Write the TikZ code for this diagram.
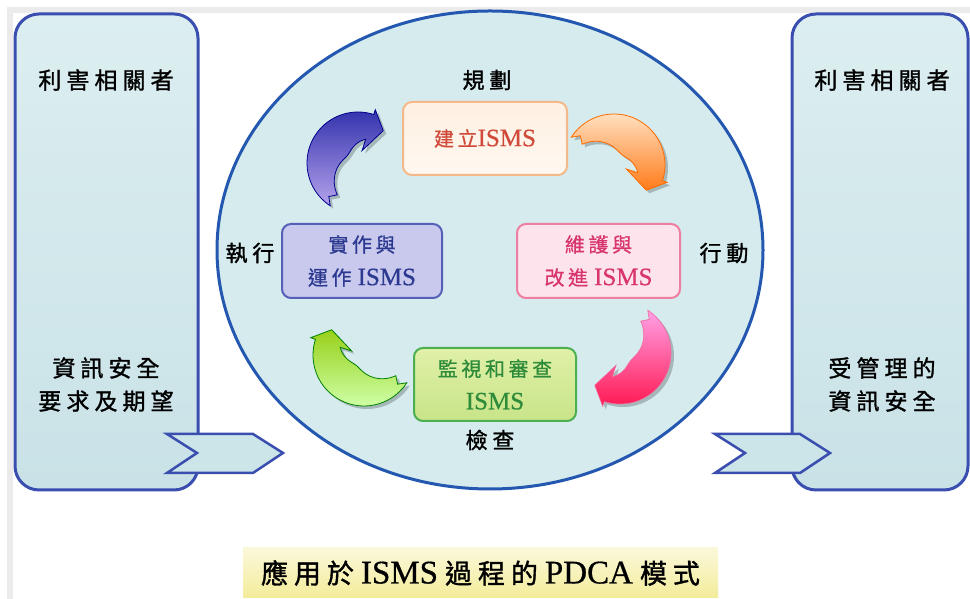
\documentclass[tikz,border=0pt]{standalone}
\usepackage{fontspec}
\usetikzlibrary{shapes.geometric}
\setmainfont{Liberation Serif}
\newfontfamily\cjk[LetterSpace=22, FakeBold=1.3]{Noto Sans CJK TC}
\newfontfamily\cjkbox[LetterSpace=18, FakeBold=0.8]{Noto Sans CJK TC}
\newfontfamily\latinbox[FakeBold=0.6]{Liberation Serif}

\definecolor{frame}{HTML}{EBEBEB}
\definecolor{edgeblue}{HTML}{3A4EB0}
\definecolor{ringblue}{HTML}{2458B0}
\definecolor{paleA}{HTML}{DCEEF0}
\definecolor{paleB}{HTML}{C9E2E7}
\definecolor{disc}{HTML}{D5EBEE}
\definecolor{chev}{HTML}{CBE5E9}
\definecolor{planedge}{HTML}{F5B888}
\definecolor{planfill}{HTML}{FEF0E2}
\definecolor{plantext}{HTML}{D04A3A}
\definecolor{doedge}{HTML}{5560B8}
\definecolor{dofill}{HTML}{C9C9EE}
\definecolor{dotext}{HTML}{2B3990}
\definecolor{actedge}{HTML}{EE7FA0}
\definecolor{actfill}{HTML}{FCE3EC}
\definecolor{acttext}{HTML}{D8356E}
\definecolor{chkedge}{HTML}{4CB050}
\definecolor{chkfillA}{HTML}{E0F0A8}
\definecolor{chkfillB}{HTML}{C8E488}
\definecolor{chktext}{HTML}{2E8B3A}
\definecolor{capA}{HTML}{FBF8DA}
\definecolor{capB}{HTML}{F3EC9A}

% outline of one curved cycle arrow, tail at 237 deg, head near 72 deg (clockwise)
\newcommand\arrowpath{%
  plot[domain=0:1, samples=40, smooth]
    ({51*cos(237-165*\x)}, {51*sin(237-165*\x)})
  -- ({56*cos(72)}, {56*sin(72)})
  -- ({41*cos(52)}, {41*sin(52)})
  -- ({13*cos(72)}, {13*sin(72)})
  -- plot[domain=1:0, samples=40, smooth]
    ({(51-(13*(1-\x)+26*\x+18*sin(180*\x)))*cos(237-165*\x)},
     {(51-(13*(1-\x)+26*\x+18*sin(180*\x)))*sin(237-165*\x)})
  -- ({44.5*cos(229)}, {44.5*sin(229)}) -- cycle}

% #1,#2 centre, #3 rotation, #4 look
\newcommand\pdcaarrow[4]{%
  \begin{scope}[shift={(#1+3,#2-3)}, rotate=#3]
    \fill[black, opacity=.22] \arrowpath;
  \end{scope}
  \begin{scope}[shift={(#1,#2)}, rotate=#3]
    \path[#4] \arrowpath;
  \end{scope}}

% CJK part of a step label, Latin part of a step label
\newcommand\zh[1]{{\cjkbox\fontsize{20}{33}\selectfont #1}}
\newcommand\en[1]{{\latinbox\fontsize{25}{33}\selectfont #1}}
% caption pieces
\newcommand\capzh[1]{{\cjk\fontsize{27}{32}\selectfont #1}}
\newcommand\capen[1]{{\latinbox\fontsize{33}{32}\selectfont #1}}

\tikzset{
  sidebox/.style={draw=edgeblue, line width=3pt, rounded corners=24pt,
    top color=paleA, bottom color=paleB},
  phase/.style={font=\cjk\fontsize{22}{26}\selectfont, text=black},
  stake/.style={font=\cjk\fontsize{23}{33}\selectfont, text=black, align=center},
  stepbox/.style={rounded corners=9pt, line width=2pt, align=center,
    font=\fontsize{20}{33}\selectfont},
  chevron/.style={draw=edgeblue, line width=2.5pt, fill=chev, line join=miter},
}

\begin{document}
\begin{tikzpicture}[x=1pt, y=1pt]
\useasboundingbox (0,0) rectangle (970,599);
\fill[white] (0,0) rectangle (970,599);

% screenshot frame
\fill[frame] (7,586) rectangle (970,592);
\fill[frame] (7,0) rectangle (13,592);

% stakeholder panels
\node[sidebox, minimum width=183pt, minimum height=476pt, inner sep=0pt] (lbox) at (106.5,347) {};
\node[sidebox, minimum width=176pt, minimum height=476pt, inner sep=0pt] (rbox) at (880,347) {};

\node[stake] (ltitle) at (106,519) {利害相關者};
\node[stake] (lneed) at (106,214.5) {資訊安全\\要求及期望};
\node[stake] (rtitle) at (882,519) {利害相關者};
\node[stake] (rsec) at (882,214.5) {受管理的\\資訊安全};

% the cycle disc
\node[ellipse, draw=ringblue, line width=3pt, fill=disc,
  minimum width=546pt, minimum height=478pt, inner sep=0pt] (cyc) at (490,349) {};

% phase names
\node[phase] (plbl) at (487,519) {規劃};
\node[phase] (dlbl) at (250,346) {執行};
\node[phase] (albl) at (724,346) {行動};
\node[phase] (clbl) at (490,159) {檢查};

% process steps
\node[stepbox, draw=planedge, top color=planfill, bottom color=planfill!80!orange!20,
  text=plantext, minimum width=164pt, minimum height=73pt] (plan) at (485,460.5)
  {\zh{建立}\en{ISMS}};
\node[stepbox, draw=doedge, fill=dofill, text=dotext,
  minimum width=160pt, minimum height=74pt] (do) at (362,338)
  {\zh{實作與}\\\zh{運作}\hspace{6pt}\en{ISMS}};
\node[stepbox, draw=actedge, fill=actfill, text=acttext,
  minimum width=163pt, minimum height=74pt] (act) at (598.5,338)
  {\zh{維護與}\\\zh{改進}\hspace{6pt}\en{ISMS}};
\node[stepbox, draw=chkedge, top color=chkfillA, bottom color=chkfillB, text=chktext,
  minimum width=162pt, minimum height=73pt] (check) at (495,214.5)
  {\zh{監視和審查}\\\en{ISMS}};

% curved arrows between the steps
\pdcaarrow{358}{436}{0}{draw=blue!55!black, line width=.8pt,
  top color=blue!60!black!80, bottom color=blue!25!white!85!violet}
\pdcaarrow{614}{434}{-90}{draw=orange!85!red, line width=.8pt,
  top color=orange!25!white, bottom color=orange!85!red!90}
\pdcaarrow{620}{246}{-180}{draw=magenta!70!red!60, line width=.6pt,
  top color=magenta!30!white!90!red, bottom color=red!75!magenta!90}
\pdcaarrow{364}{244}{90}{draw=green!50!black, line width=.8pt,
  top color=green!55!black!45!yellow!90, bottom color=yellow!45!green!35!white}

% flow in and out
\draw[chevron] (167,165) -- (253,165) -- (283,146) -- (253,126) -- (167,126) -- (197,146) -- cycle;
\draw[chevron] (715,165) -- (800,165) -- (830,146) -- (800,126) -- (715,126) -- (745,146) -- cycle;

% caption
\node[top color=capA, bottom color=capB, minimum width=475pt, minimum height=50pt,
  inner sep=0pt] (cap) at (480.5,26)
  {\capzh{應用於}\hspace{7pt}\capen{ISMS}\hspace{7pt}\capzh{過程的}\hspace{7pt}\capen{PDCA}\hspace{7pt}\capzh{模式}};
\end{tikzpicture}
\end{document}
